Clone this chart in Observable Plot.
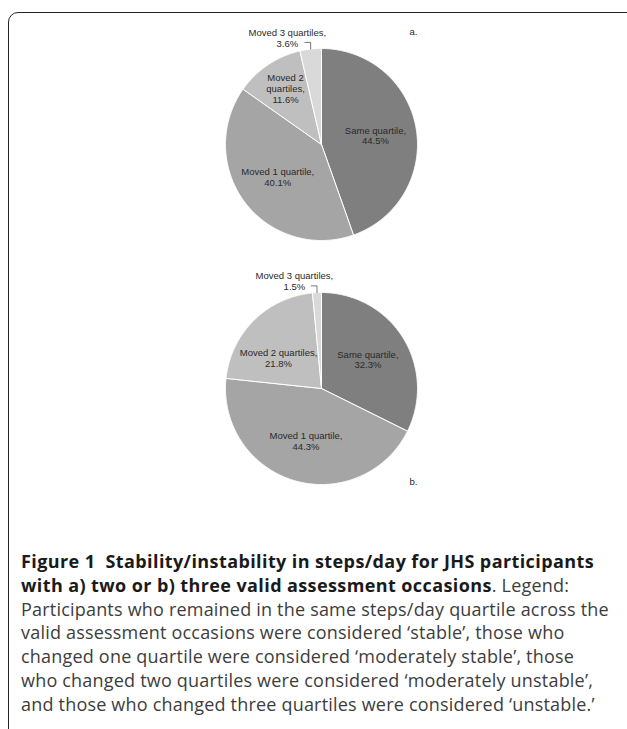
<!DOCTYPE html>
<html>
<head>
<meta charset="utf-8">
<script src="https://cdn.jsdelivr.net/npm/d3@7"></script>
<script src="https://cdn.jsdelivr.net/npm/@observablehq/plot@0.6"></script>
<style>
  html, body { margin: 0; padding: 0; background: #fff; }
  body { width: 627px; height: 729px; position: relative; overflow: hidden; }
  #frame { position: absolute; left: 8px; top: 12px; width: 660px; height: 800px;
           border: 1.5px solid #222; border-radius: 10px; box-sizing: border-box; }
  .pie { position: absolute; left: 0; }
  #caption { position: absolute; left: 21px; top: 550px; font-family: "Open Sans", sans-serif;
             font-size: 18px; line-height: 23.8px; white-space: nowrap; color: #3d3d3d; letter-spacing: 0.2px; }
  #caption b { color: #1a1a1a; font-weight: 700; letter-spacing: 0.4px; }
</style>
</head>
<body>
<div id="frame"></div>
<div id="pieA" class="pie" style="top:22px"></div>
<div id="pieB" class="pie" style="top:266px"></div>
<div id="caption">
<b>Figure 1&nbsp; Stability/instability in steps/day for JHS participants</b><br>
<b>with a) two or b) three valid assessment occasions</b>. Legend:<br>
Participants who remained in the same steps/day quartile across the<br>
valid assessment occasions were considered ‘stable’, those who<br>
changed one quartile were considered ‘moderately stable’, those<br>
who changed two quartiles were considered ‘moderately unstable’,<br>
and those who changed three quartiles were considered ‘unstable.’
</div>
<script>
// ---- data ----
const categories = ["Same quartile", "Moved 1 quartile", "Moved 2 quartiles", "Moved 3 quartiles"];
const valuesA = [44.5, 40.1, 11.6, 3.6];
const valuesB = [32.3, 44.3, 21.8, 1.5];
const labelsA = ["Same quartile,", "Moved 1 quartile,", "Moved 2\nquartiles,", "Moved 3 quartiles,"];
const labelsB = ["Same quartile,", "Moved 1 quartile,", "Moved 2 quartiles,", "Moved 3 quartiles,"];
const panelTags = ["a.", "b."];
const sliceColors = ["#7f7f7f", "#a5a5a5", "#bfbfbf", "#d9d9d9"];

const LABEL_FONT = "Liberation Sans, Arial, sans-serif";
const LABEL_SIZE = 9.5;
const LINE_H = 1.15;
const PX_PER_UNIT = 96;

const ctx = document.createElement("canvas").getContext("2d");
ctx.font = `${LABEL_SIZE}px "Liberation Sans"`;
function boxSize(text) {
  const lines = text.split("\n");
  const w = Math.max(...lines.map(l => ctx.measureText(l).width));
  const h = lines.length * LABEL_SIZE * LINE_H;
  return [w / PX_PER_UNIT, h / PX_PER_UNIT];
}
const TAU = 2 * Math.PI;
function angDist(a, s, e) {
  a = ((a % TAU) + TAU) % TAU;
  if (a >= s && a <= e) return 0;
  const d1 = Math.min(Math.abs(a - s), TAU - Math.abs(a - s));
  const d2 = Math.min(Math.abs(a - e), TAU - Math.abs(a - e));
  return Math.min(d1, d2);
}
// best-fit placement of a label box inside its slice, nearest to the centroid point
function fitLabel(arc, text) {
  const [w, h] = boxSize(text);
  const mid = (arc.startAngle + arc.endAngle) / 2;
  const px = 0.57 * Math.sin(mid), py = 0.57 * Math.cos(mid);
  let best = null;
  for (let r = 0.2; r <= 0.9; r += 0.01) {
    for (let t = arc.startAngle; t <= arc.endAngle; t += Math.PI / 360) {
      const cx = r * Math.sin(t), cy = r * Math.cos(t);
      let pen = 0;
      for (let i = 0; i <= 4; i++) for (let j = 0; j <= 2; j++) {
        const sx = cx - w / 2 + w * i / 4, sy = cy - h / 2 + h * j / 2;
        const rr = Math.hypot(sx, sy);
        const a = Math.atan2(sx, sy);
        pen += angDist(a, arc.startAngle, arc.endAngle) * rr;
        if (rr > 0.96) pen += rr - 0.96;
      }
      const score = pen * 40 + Math.hypot(cx - px, cy - py);
      if (!best || score < best.score) best = {x: cx, y: cy, score};
    }
  }
  return best;
}

function makePie(values, labels, tag, tagAtTop) {
  const arcs = d3.pie().sort(null).value(d => d)(values);
  const pts = [];
  const labelRows = [];
  const leaderPts = [];
  arcs.forEach((a, i) => {
    const cat = categories[i];
    pts.push({cat, x: 0, y: 0});
    const n = Math.max(2, Math.ceil((a.endAngle - a.startAngle) / (Math.PI / 360)));
    for (let k = 0; k <= n; k++) {
      const t = a.startAngle + (a.endAngle - a.startAngle) * k / n;
      pts.push({cat, x: Math.sin(t), y: Math.cos(t)});
    }
    pts.push({cat, x: 0, y: 0});
    const mid = (a.startAngle + a.endAngle) / 2;
    const text = labels[i] + "\n" + values[i].toFixed(1) + "%";
    if (values[i] < 5) {
      labelRows.push({x: 1.12 * Math.sin(mid), y: 1.12 * Math.cos(mid), text, outside: true});
      const px = Math.sin(mid), py = Math.cos(mid);
      leaderPts.push({x: px, y: py}, {x: px, y: py + 0.07}, {x: px - 0.06, y: py + 0.07});
    } else {
      const p = fitLabel(a, text);
      labelRows.push({x: p.x, y: p.y, text, outside: false});
    }
  });
  return Plot.plot({
    width: 627, height: 244,
    marginLeft: 15, marginRight: 0, marginTop: 0, marginBottom: 0,
    x: {domain: [-3.1875, 3.1875], axis: null},
    y: {domain: [-1.2708, 1.2708], axis: null},
    color: {domain: categories, range: sliceColors},
    style: {overflow: "visible", background: "transparent"},
    marks: [
      Plot.line(pts, {x: "x", y: "y", z: "cat", fill: "cat", stroke: "white", strokeWidth: 1, strokeLinejoin: "round"}),
      Plot.line(leaderPts, {x: "x", y: "y", stroke: "#555", strokeWidth: 0.8}),
      Plot.text(labelRows.filter(d => !d.outside), {x: "x", y: "y", text: "text", fontSize: LABEL_SIZE,
        fontFamily: LABEL_FONT, fill: "#2a2a2a", lineHeight: LINE_H}),
      Plot.text(labelRows.filter(d => d.outside), {x: "x", y: "y", text: "text", fontSize: LABEL_SIZE, dx: -22,
        fontFamily: LABEL_FONT, fill: "#2a2a2a", lineHeight: LINE_H}),
      Plot.text([tag], {text: d => d, frameAnchor: tagAtTop ? "top-right" : "bottom-right",
        dx: -210, dy: tagAtTop ? 6 : -26, fontSize: LABEL_SIZE,
        fontFamily: LABEL_FONT, fill: "#2a2a2a"})
    ]
  });
}

document.getElementById("pieA").appendChild(makePie(valuesA, labelsA, panelTags[0], true));
document.getElementById("pieB").appendChild(makePie(valuesB, labelsB, panelTags[1], false));
</script>
</body>
</html>
